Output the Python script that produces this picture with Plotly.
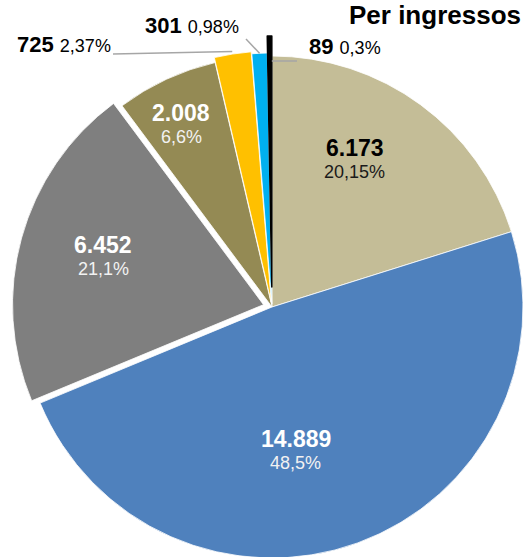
import math
import plotly.graph_objects as go

# ---------------- data ----------------
categories = ["Categoria 1", "Categoria 2", "Categoria 3", "Categoria 4",
              "Categoria 5", "Categoria 6", "Categoria 7"]
values = [6173, 14889, 6452, 2008, 725, 301, 89]
value_text = ["6.173", "14.889", "6.452", "2.008", "725", "301", "89"]
pct_text = ["20,15%", "48,5%", "21,1%", "6,6%", "2,37%", "0,98%", "0,3%"]
title_text = "Per ingressos"

# ---------------- style ----------------
colors = ["#C4BD97", "#4F81BD", "#7F7F7F", "#948A54", "#FFC000", "#00B0F0", "#000000"]
pulls = [0, 0, 0.035, 0, 0.02, 0.012, 0.08]
val_colors = ["#000000", "#FFFFFF", "#FFFFFF", "#FFFFFF"]
pct_colors = ["#1A1A1A", "#F2F2F2", "#F2F2F2", "#F2F2F2"]
# inside label placement: angle shift from the slice's mid angle (deg), radius fraction
label_dang = [-6.9, 10.5, 1.0, -1.6]
label_rfrac = [0.672, 0.58, 0.70, 0.81]
FONT = "Arial, Liberation Sans, sans-serif"

# page geometry of the pie
W, H = 550, 590
CX, CY, R = 272.0, 307.0, 251.0
half = R * (1 + max(pulls))
dom_x = [(CX - half) / W, (CX + half) / W]
dom_y = [1 - (CY + half) / H, 1 - (CY - half) / H]
total = sum(values)


def px_to_paper(x, y):
    return x / W, 1 - y / H


def slice_point(i, rfrac, afrac=0.5, with_pull=True):
    start = sum(values[:i]) / total
    ang = 2 * math.pi * (start + values[i] / total * afrac)
    mid = 2 * math.pi * (start + values[i] / total / 2)
    rr = R * rfrac
    off = R * pulls[i] if with_pull else 0
    x = CX + rr * math.sin(ang) + off * math.sin(mid)
    y = CY - rr * math.cos(ang) - off * math.cos(mid)
    return x, y


fig = go.Figure(go.Pie(
    labels=categories,
    values=values,
    textinfo="none",
    sort=False,
    direction="clockwise",
    rotation=0,
    pull=pulls,
    marker=dict(colors=colors,
                line=dict(color=["#FFFFFF"] * 6 + ["#000000"],
                          width=[0.8] * 6 + [1.5])),
    domain=dict(x=dom_x, y=dom_y),
    showlegend=False,
    hoverinfo="label+value+percent",
))

annotations = []
shapes = []

# inside labels of the big slices
for i in range(4):
    start = sum(values[:i]) / total
    mid = 2 * math.pi * (start + values[i] / total / 2) + math.radians(label_dang[i])
    bx = CX + R * label_rfrac[i] * math.sin(mid)
    by = CY - R * label_rfrac[i] * math.cos(mid)
    vx, vy = px_to_paper(bx, by - 12)
    px_, py_ = px_to_paper(bx, by + 12)
    annotations.append(dict(
        x=vx, y=vy, xref="paper", yref="paper", xanchor="center", yanchor="middle",
        text=f"<b>{value_text[i]}</b>", showarrow=False,
        font=dict(family=FONT, size=23, color=val_colors[i])))
    annotations.append(dict(
        x=px_, y=py_, xref="paper", yref="paper", xanchor="center", yanchor="middle",
        text=pct_text[i], showarrow=False,
        font=dict(family=FONT, size=18, color=pct_colors[i])))

# outside labels of the small slices: label anchor px, xanchor, leader points, tip
small = {
    4: dict(pos=(113, 44), xanchor="right", lead=[(113, 54)], tip=(1.01, 0.5)),
    5: dict(pos=(241, 26), xanchor="right", lead=[(246, 39)], tip=(1.0, 0.5)),
    6: dict(pos=(307, 47), xanchor="left", lead=[(297, 61), (283, 61)], tip=(0.9, 1.0)),
}
for i, spec in small.items():
    lx, ly = px_to_paper(*spec["pos"])
    annotations.append(dict(
        x=lx, y=ly, xref="paper", yref="paper", xanchor=spec["xanchor"], yanchor="middle",
        text=f"<b>{value_text[i]}</b> <span style='font-size:18px'>{pct_text[i]}</span>",
        showarrow=False, font=dict(family=FONT, size=22, color="#000000")))
    tip = slice_point(i, *spec["tip"])
    pts = spec["lead"] + [tip]
    for a, b in zip(pts[:-1], pts[1:]):
        x0, y0 = px_to_paper(*a)
        x1, y1 = px_to_paper(*b)
        shapes.append(dict(type="line", xref="paper", yref="paper",
                           x0=x0, y0=y0, x1=x1, y1=y1,
                           line=dict(color="#A6A6A6", width=1.5)))

tx, ty = px_to_paper(523, 15)
annotations.append(dict(
    x=tx, y=ty, xref="paper", yref="paper", xanchor="right", yanchor="middle",
    text=f"<b>{title_text}</b>", showarrow=False,
    font=dict(family=FONT, size=26, color="#000000")))

fig.update_layout(
    width=W, height=H,
    margin=dict(l=0, r=0, t=0, b=0),
    paper_bgcolor="#FFFFFF",
    plot_bgcolor="#FFFFFF",
    annotations=annotations,
    shapes=shapes,
    font=dict(family=FONT),
)

fig.write_html(
    "out.html",
    config={"displayModeBar": False},
    post_script="document.body.style.margin='0px';"
                "document.documentElement.style.overflow='hidden';"
                "document.body.style.overflow='hidden';",
)
